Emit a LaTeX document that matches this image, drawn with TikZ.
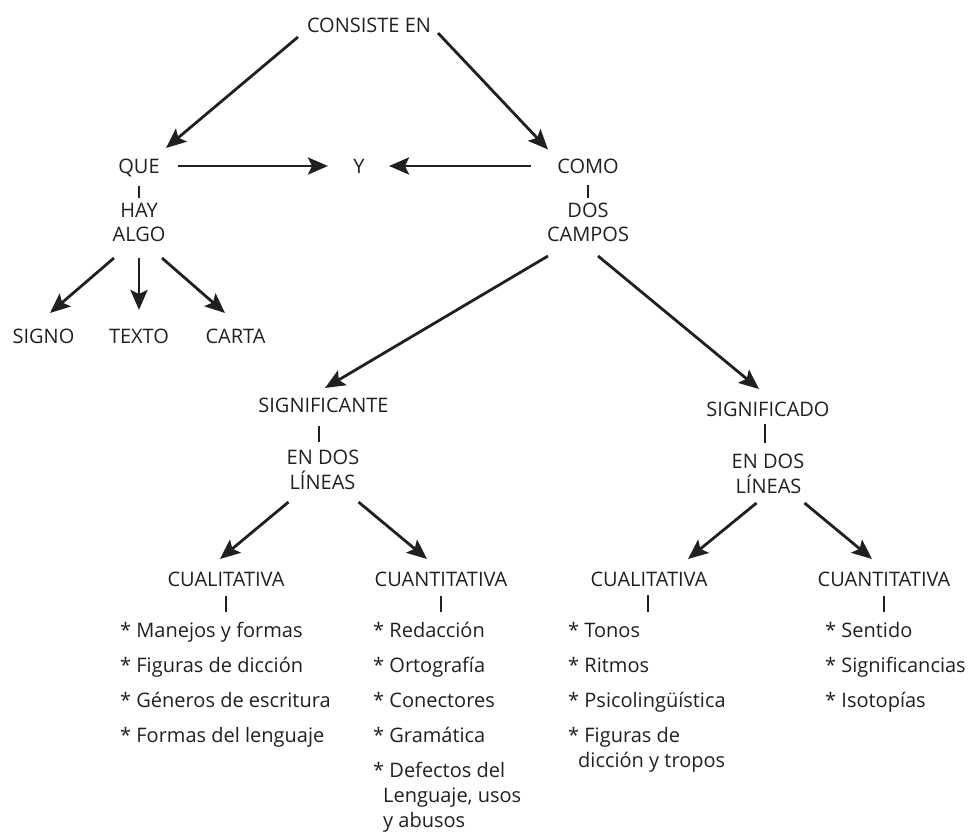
\documentclass[tikz,border=0pt]{standalone}
\usepackage{fontspec}
\setmainfont{Open Sans}
\usetikzlibrary{arrows.meta}
\definecolor{ink}{HTML}{231F20}
\begin{document}
\begin{tikzpicture}[x=1pt,y=-1pt,
  lbl/.style={inner sep=0pt,anchor=base,text=ink,font=\fontsize{20}{24}\selectfont},
  itm/.style={inner sep=0pt,anchor=base west,text=ink,font=\fontsize{20}{24}\selectfont},
  arr/.style={draw=ink,line width=2.8pt,-{Stealth[length=20pt,width=17pt,inset=4pt]}},
  tick/.style={draw=ink,line width=2.8pt}]
\useasboundingbox (0,0) rectangle (975,834);
% top level
\node[lbl] (ce) at (369,33) {CONSISTE EN};
\node[lbl] (que) at (139,174) {QUE};
\node[lbl] (hay) at (139,218) {HAY};
\node[lbl] (algo) at (139,242) {ALGO};
\node[lbl] (yy) at (359,174) {Y};
\node[lbl] (como) at (588,174) {COMO};
\node[lbl] (dos) at (588,218) {DOS};
\node[lbl] (campos) at (588,242) {CAMPOS};
\node[lbl] (signo) at (43.5,344) {SIGNO};
\node[lbl] (texto) at (139,344) {TEXTO};
\node[lbl] (carta) at (235.5,344) {CARTA};
\node[lbl] (ste) at (323.5,413) {SIGNIFICANTE};
\node[lbl] (endos1) at (323,464) {EN DOS};
\node[lbl] (lineas1) at (322.5,489) {LÍNEAS};
\node[lbl] (sdo) at (768,417) {SIGNIFICADO};
\node[lbl] (endos2) at (768,468) {EN DOS};
\node[lbl] (lineas2) at (768.5,493) {LÍNEAS};
\node[lbl] (cual1) at (226,586) {CUALITATIVA};
\node[lbl] (cuan1) at (441,586) {CUANTITATIVA};
\node[lbl] (cual2) at (649,586) {CUALITATIVA};
\node[lbl] (cuan2) at (884,586) {CUANTITATIVA};
% lists
\node[itm] (m1) at (120,637) {* Manejos y formas};
\node[itm] (m2) at (120,672) {* Figuras de dicción};
\node[itm] (m3) at (120,707) {* Géneros de escritura};
\node[itm] (m4) at (120,742) {* Formas del lenguaje};
\node[itm] (r1) at (373,637) {* Redacción};
\node[itm] (r2) at (373,672) {* Ortografía};
\node[itm] (r3) at (373,707) {* Conectores};
\node[itm] (r4) at (373,742) {* Gramática};
\node[itm] (r5) at (373,777) {* Defectos del};
\node[itm] (r5b) at (383,802) {Lenguaje, usos};
\node[itm] (r5c) at (383,827) {y abusos};
\node[itm] (t1) at (568,637) {* Tonos};
\node[itm] (t2) at (568,672) {* Ritmos};
\node[itm] (t3) at (568,707) {* Psicolingüística};
\node[itm] (t4) at (568,742) {* Figuras de};
\node[itm] (t4b) at (578,767) {dicción y tropos};
\node[itm] (s1) at (825,637) {* Sentido};
\node[itm] (s2) at (825,672) {* Significancias};
\node[itm] (s3) at (825,707) {* Isotopías};
% arrows
\draw[arr] ([shift={(-71,4)}]ce.base) -- ([shift={(27,-26)}]que.base);
\draw[arr] ([shift={(69,0)}]ce.base) -- ([shift={(-40,-24.5)}]como.base);
\draw[arr] ([shift={(39,-8)}]que.base) -- ([shift={(-31,-8)}]yy.base);
\draw[arr] ([shift={(-57,-8)}]como.base) -- ([shift={(30,-8)}]yy.base);
\draw[arr] ([shift={(-25,16)}]algo.base) -- ([shift={(6.5,-31)}]signo.base);
\draw[arr] ([shift={(0,16)}]algo.base) -- ([shift={(0,-34)}]texto.base);
\draw[arr] ([shift={(23,16)}]algo.base) -- ([shift={(-10.5,-31)}]carta.base);
\draw[arr] ([shift={(-40,14)}]campos.base) -- ([shift={(1.5,-25)}]ste.base);
\draw[arr] ([shift={(10,14)}]campos.base) -- ([shift={(-9,-28)}]sdo.base);
\draw[arr] ([shift={(-34,13)}]lineas1.base) -- ([shift={(-6,-27)}]cual1.base);
\draw[arr] ([shift={(36,13)}]lineas1.base) -- ([shift={(-14,-27)}]cuan1.base);
\draw[arr] ([shift={(-12,10)}]lineas2.base) -- ([shift={(39,-27)}]cual2.base);
\draw[arr] ([shift={(36,10)}]lineas2.base) -- ([shift={(-12,-27)}]cuan2.base);
% ticks
\draw[tick] ([shift={(0,12)}]que.base) -- ([shift={(0,-20)}]hay.base);
\draw[tick] ([shift={(0,11)}]como.base) -- ([shift={(0,-20)}]dos.base);
\draw[tick] ([shift={(-4.5,13)}]ste.base) -- ([shift={(-4,-22)}]endos1.base);
\draw[tick] ([shift={(-3,7)}]sdo.base) -- ([shift={(-3,-25)}]endos2.base);
\draw[tick] ([shift={(0,10)}]cual1.base) -- ([shift={(106,-25)}]m1.base west);
\draw[tick] ([shift={(0,10)}]cuan1.base) -- ([shift={(68,-25)}]r1.base west);
\draw[tick] ([shift={(-1,9)}]cual2.base) -- ([shift={(80,-25)}]t1.base west);
\draw[tick] ([shift={(0,10)}]cuan2.base) -- ([shift={(59,-25)}]s1.base west);
\end{tikzpicture}
\end{document}
